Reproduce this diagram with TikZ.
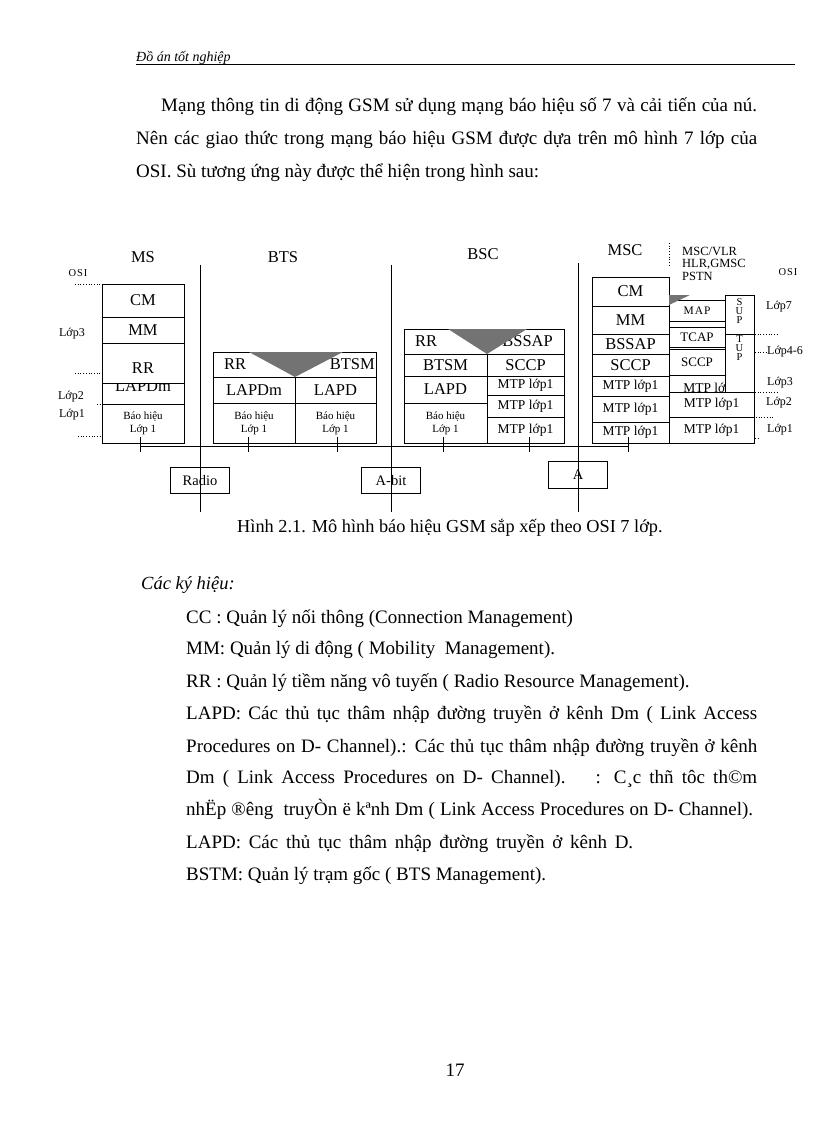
\documentclass[tikz,border=0pt]{standalone}
\usepackage{fontspec}
\setmainfont{Liberation Serif}
\newfontfamily\widefont[LetterSpace=9]{Liberation Serif}
\usepackage{tikz}
\usetikzlibrary{positioning}

\begin{document}
\begin{tikzpicture} [x=1pt, y=-1pt,
				stackcell/.style={
				% The shape:
				rectangle, anchor=north west,
				% The size:
      				inner sep=0pt, outer sep=0pt,
				% The border:
      				line width=1pt, draw=black,
				% Font
				font=\fontsize{16.5}{18}\selectfont
    				},
				coverbox/.style={
				% The filling:
				fill=white
				},
				celltxt/.style={inner sep=0pt, font=\fontsize{16.5}{18}\selectfont},
				mtptxt/.style={font=\fontsize{13.5}{15}\selectfont},
				sigtxt/.style={font=\fontsize{11}{13}\selectfont},
				ositxt/.style={inner sep=0pt, font=\fontsize{12}{13}\selectfont},
				ifacebox/.style={
				% The shape:
				rectangle, anchor=north west,
				% The border:
				draw, line width=1pt, inner sep=0pt,
				font=\fontsize{14.5}{16}\selectfont
				},
				bodytxt/.style={anchor=base west, inner sep=0pt, font=\fontsize{19}{20}\selectfont},
				busline/.style={line width=1pt},
				osidots/.style={dotted, line width=0.7pt},
				wedgefill/.style={fill=black!55}
				]
    \tikzstyle{every node} = [align=center]
    \fill[white] (0,0) rectangle (816,1123);
    \useasboundingbox (0,0) rectangle (816,1123);

    % page head and text
    \node[bodytxt, font=\fontsize{14}{16}\selectfont\itshape] (header) at (136,62) {Đồ án tốt nghiệp};
    \draw[line width=0.6pt] ([yshift=-2.5pt]header.base west) -- ++(659,0);
    \node[bodytxt] (para1) at (161,112) {\makebox[596pt][s]{Mạng thông tin di động GSM sử dụng mạng báo hiệu số 7 và cải tiến của nú.}};
    \node[bodytxt] (para2) at (136,145) {\makebox[621pt][s]{Nên các giao thức trong mạng báo hiệu GSM được dựa trên mô hình 7 lớp của}};
    \node[bodytxt] (para3) at (136,178) {OSI. Sù tương ứng này được thể hiện trong hình sau:};

    % station names
    \node[celltxt] (msName) at (143,257) {MS};
    \node[celltxt] (btsName) at (283,257) {BTS};
    \node[celltxt] (bscName) at (483,254) {BSC};
    \node[celltxt] (mscName) at (625,250) {MSC};
    \node[inner sep=0pt, anchor=north west, align=left, font=\fontsize{12.5}{12.5}\selectfont] (mscPeers) at (682,247) {MSC/VLR\\HLR,GMSC\\PSTN};

    % OSI layers, left
    \node[ositxt, font=\widefont\fontsize{10.5}{12}\selectfont] (osiLeft) at (78,273) {OSI};
    \node[ositxt] (lop3Left) at (72,334) {Lớp3};
    \node[ositxt] (lop2Left) at (71,397) {Lớp2};
    \node[ositxt] (lop1Left) at (72,415) {Lớp1};

    % MS
    \node[stackcell, minimum width=82pt, minimum height=33pt] (msCM) at (102,284) {CM};
    \node[stackcell, minimum width=82pt, minimum height=26pt, below=0pt of msCM] (msMM) {MM};
    \node[stackcell, minimum width=82pt, minimum height=40pt, below=0pt of msMM] (msRR) {\raisebox{-5pt}[\height][\depth]{RR}};
    \node[stackcell, minimum width=82pt, minimum height=21pt, below=0pt of msRR,
    	path picture={\node[celltxt, anchor=base] at ([yshift=-8pt]path picture bounding box.north) {LAPDm};}] (msLAPDm) {};
    \node[stackcell, sigtxt, minimum width=82pt, minimum height=39pt, below=0pt of msLAPDm] (msL1) {Báo hiệu\\Lớp 1};
    \draw[osidots] ([xshift=-27pt]msCM.north west) -- ([xshift=-2pt]msCM.north west);
    \draw[osidots] (75,373) -- (100,373);
    \draw[osidots] ([xshift=-5pt]msL1.north west) -- (msL1.north west);
    \draw[osidots] (78,436) -- (100,436);

    % BTS
    \node[stackcell, minimum width=163pt, minimum height=25pt] (btsTop) at (213,352) {};
    \node[stackcell, minimum width=82pt, minimum height=26pt, below right=0pt of btsTop.south west] (btsLAPDm) {LAPDm};
    \node[stackcell, minimum width=81pt, minimum height=26pt, right=0pt of btsLAPDm] (btsLAPD) {LAPD};
    \node[stackcell, sigtxt, minimum width=82pt, minimum height=40pt, below=0pt of btsLAPDm] (btsL1a) {Báo hiệu\\Lớp 1};
    \node[stackcell, sigtxt, minimum width=81pt, minimum height=40pt, below=0pt of btsLAPD] (btsL1b) {Báo hiệu\\Lớp 1};
    \node[celltxt, anchor=west] (btsRR) at ([xshift=11pt]btsTop.west) {RR};
    \node[celltxt, anchor=east] (btsBTSM) at ([xshift=-1pt]btsTop.east) {BTSM};
    \fill[wedgefill] ([xshift=36pt]btsTop.north west) -- ([xshift=-33pt]btsTop.north east) -- (btsLAPDm.north east) -- cycle;

    % BSC
    \node[stackcell, minimum width=160pt, minimum height=25pt] (bscTop) at (404,329) {};
    \node[stackcell, minimum width=83pt, minimum height=22pt, below right=0pt of bscTop.south west] (bscBTSM) {BTSM};
    \node[stackcell, minimum width=83pt, minimum height=27pt, below=0pt of bscBTSM] (bscLAPD) {LAPD};
    \node[stackcell, sigtxt, minimum width=83pt, minimum height=40pt, below=0pt of bscLAPD] (bscL1) {Báo hiệu\\Lớp 1};
    \node[stackcell, minimum width=77pt, minimum height=22pt, right=0pt of bscBTSM] (bscSCCP) {SCCP};
    \node[stackcell, mtptxt, minimum width=77pt, minimum height=19pt, below=0pt of bscSCCP] (bscMTPa) {MTP lớp1};
    \node[stackcell, mtptxt, minimum width=77pt, minimum height=22pt, below=0pt of bscMTPa] (bscMTPb) {MTP lớp1};
    \node[stackcell, mtptxt, minimum width=77pt, minimum height=26pt, below=0pt of bscMTPb] (bscMTPc) {MTP lớp1};
    \node[celltxt, anchor=west] (bscRR) at ([xshift=11pt]bscTop.west) {RR};
    \node[celltxt, anchor=east] (bscBSSAP) at ([xshift=-11pt]bscTop.east) {BSSAP};
    \fill[wedgefill] ([xshift=44pt]bscTop.north west) -- ([xshift=-37pt]bscTop.north east) -- (bscBTSM.north east) -- cycle;

    % MSC
    \node[stackcell, minimum width=77pt, minimum height=29pt] (mscCM) at (592,277) {CM};
    \node[stackcell, minimum width=77pt, minimum height=28pt, below=0pt of mscCM] (mscMM) {MM};
    \node[stackcell, minimum width=77pt, minimum height=20pt, below=0pt of mscMM] (mscBSSAP) {BSSAP};
    \node[stackcell, minimum width=77pt, minimum height=22pt, below=0pt of mscBSSAP] (mscSCCP) {SCCP};
    \node[stackcell, mtptxt, minimum width=77pt, minimum height=20pt, below=0pt of mscSCCP] (mscMTPa) {MTP lớp1};
    \node[stackcell, mtptxt, minimum width=77pt, minimum height=26pt, below=0pt of mscMTPa] (mscMTPb) {MTP lớp1};
    \node[stackcell, mtptxt, minimum width=77pt, minimum height=21pt, below=0pt of mscMTPb] (mscMTPc) {MTP lớp1};
    \node[stackcell, font=\widefont\fontsize{11.5}{12}\selectfont, minimum width=56pt, minimum height=21pt] (mapBox) at (669,300) {MAP};
    \node[stackcell, font=\fontsize{13}{14}\selectfont, minimum width=56pt, minimum height=20pt] (tcapBox) at (669,327) {TCAP};
    \node[stackcell, font=\fontsize{13}{14}\selectfont, minimum width=56pt, minimum height=26pt] (sccpBox) at (669,349) {SCCP};
    \node[stackcell, minimum width=56pt, minimum height=17pt, below=0pt of sccpBox,
    	path picture={\node[mtptxt, inner sep=0pt, anchor=base west] at ([xshift=14pt, yshift=-0.5pt]path picture bounding box.south west) {MTP lớp1};}] (mtpCut) {};
    \node[stackcell, mtptxt, minimum width=85pt, minimum height=25pt] (mtpRa) at (669,392) {MTP lớp1};
    \node[stackcell, mtptxt, minimum width=85pt, minimum height=26pt, below=0pt of mtpRa] (mtpRb) {MTP lớp1};
    \node[stackcell, coverbox, minimum width=29pt, minimum height=39pt] (supCol) at (725,295) {};
    \node[stackcell, coverbox, minimum width=29pt, minimum height=58pt, below=0pt of supCol] (tupCol) {};
    \node[inner sep=0pt, anchor=north, font=\fontsize{10.5}{9}\selectfont] (supTxt) at ([yshift=-3pt]supCol.north) {S\\U\\P};
    \node[inner sep=0pt, anchor=north, font=\fontsize{10.5}{9}\selectfont] (tupTxt) at ([yshift=-1pt]tupCol.north) {T\\U\\P};
    \fill[wedgefill] ([yshift=5pt]mapBox.north west) -- ++(21,0) -- ([yshift=-5pt]mapBox.north west) -- cycle;
    \draw[osidots] (669,243) -- (669,265);

    % OSI layers, right
    \node[ositxt, font=\widefont\fontsize{10.5}{12}\selectfont] (osiRight) at (788,272) {OSI};
    \node[ositxt] (lop7Right) at (779,307) {Lớp7};
    \node[ositxt] (lop46Right) at (785,352) {Lớp4-6};
    \node[ositxt] (lop3Right) at (780,383) {Lớp3};
    \node[ositxt] (lop2Right) at (779,403) {Lớp2};
    \node[ositxt] (lop1Right) at (780,430) {Lớp1};
    \draw[osidots] ([xshift=1pt]tupCol.north east) -- ++(22,0);
    \draw[osidots] (755,352) -- (lop46Right.west);
    \draw[osidots] ([xshift=1pt]mtpRa.north east) -- ++(22,0);
    \draw[osidots] ([xshift=2pt]mtpRb.north east) -- ++(17,0);
    \draw[osidots] (755,438) -- (758,438);

    % interfaces
    \node[ifacebox, minimum width=59pt, minimum height=26pt] (radioBox) at (170,467) {Radio};
    \node[ifacebox, minimum width=59pt, minimum height=26pt] (abisBox) at (361,467) {A-bit};
    \node[ifacebox, minimum width=59pt, minimum height=27pt] (aBox) at (548,461) {A};
    \draw[busline] (200,265) -- (200,512);
    \draw[busline] (391,265) -- (391,512);
    \draw[busline] (578,263) -- (578,512);
    \coordinate (busW) at (140,446);
    \coordinate (busE) at (628,446);
    \draw[busline] (busW) -- (busE);
    \draw[busline] (140,437) -- (140,452);
    \draw[busline] (248,437) -- (248,452);
    \draw[busline] (337,437) -- (337,452);
    \draw[busline] (443,437) -- (443,452);
    \draw[busline] (529,437) -- (529,452);
    \draw[busline] (628,437) -- (628,452);

    % caption and legend
    \node[bodytxt, font=\fontsize{18.3}{20}\selectfont] (caption) at (237,532) {Hình 2.1. Mô hình báo hiệu GSM sắp xếp theo OSI 7 lớp.};
    \node[bodytxt, font=\fontsize{18.5}{20}\selectfont\itshape] (legendHead) at (141,589) {Các ký hiệu:};
    \node[bodytxt] (legCC) at (186,623) {CC : Quản lý nối thông (Connection Management)};
    \node[bodytxt] (legMM) at (186,654) {MM: Quản lý di động ( Mobility\ \ Management).};
    \node[bodytxt] (legRR) at (186,687) {RR : Quản lý tiềm năng vô tuyến ( Radio Resource Management).};
    \node[bodytxt] (legLAPDa) at (186,719) {\makebox[571pt][s]{LAPD: Các thủ tục thâm nhập đường truyền ở kênh Dm ( Link Access}};
    \node[bodytxt] (legLAPDb) at (186,752) {\makebox[571pt][s]{Procedures on D- Channel).: Các thủ tục thâm nhập đường truyền ở kênh}};
    \node[bodytxt] (legLAPDc) at (186,783) {\makebox[571pt][s]{Dm ( Link Access Procedures on D- Channel).\hspace{30pt}: C¸c thñ tôc th©m}};
    \node[bodytxt] (legLAPDd) at (186,815) {\makebox[567pt][s]{nhËp ®êng\ \ truyÒn ë kªnh Dm ( Link Access Procedures on D- Channel).}};
    \node[bodytxt] (legLAPD) at (186,848) {\makebox[447pt][s]{LAPD: Các thủ tục thâm nhập đường truyền ở kênh D.}};
    \node[bodytxt] (legBSTM) at (186,880) {BSTM: Quản lý trạm gốc ( BTS Management).};
    \node[bodytxt, anchor=base] (pageNo) at (455,1076) {17};
\end{tikzpicture}
\end{document}
